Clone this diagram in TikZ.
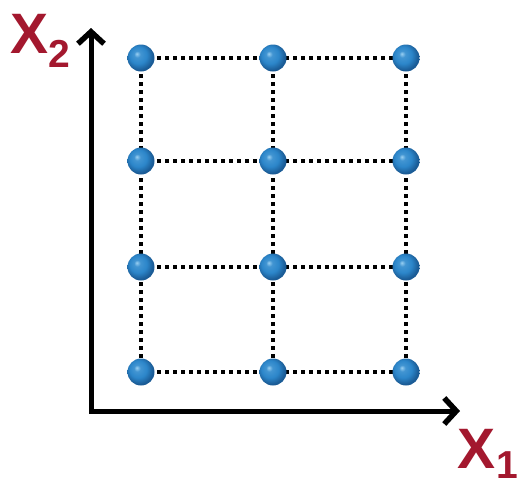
\documentclass[tikz,border=0pt]{standalone}
\usepackage{fontspec}
\setmainfont{Liberation Sans}
\usetikzlibrary{arrows.meta}
\definecolor{lab}{HTML}{A3182E}
\definecolor{ballc}{HTML}{2C86CA}
\definecolor{ballhi}{HTML}{9AD0F2}
\definecolor{balled}{HTML}{1B5C96}
\pgfdeclareradialshading{myball}{\pgfpoint{-8bp}{8bp}}{%
  color(0bp)=(ballhi); color(6bp)=(ballc!80!ballhi); color(16bp)=(ballc);
  color(26bp)=(balled); color(30bp)=(balled); color(50bp)=(balled)}
\tikzset{
  barb/.tip={Straight Barb[length=12pt,width=26pt,line width=5.5pt]},
  ax/.style={line width=5pt, line join=miter, barb-barb},
  grid/.style={line width=3.6pt, dash pattern=on 3.6pt off 4.4pt},
  ptnode/.style={circle, minimum size=27pt, inner sep=0pt, shading=myball},
  lbl/.style={text=lab, font=\bfseries\fontsize{57}{57}\selectfont, inner sep=0pt},
  sublbl/.style={text=lab, font=\bfseries\fontsize{39}{39}\selectfont, inner sep=0pt}
}
\begin{document}
\begin{tikzpicture}[x=1pt,y=-1pt]
\useasboundingbox (0,0) rectangle (519,485);
% grid coordinates
\foreach \i/\x in {1/141,2/273,3/406}{
  \foreach \j/\y in {1/58,2/161,3/267,4/372}{
    \coordinate (c\i\j) at (\x,\y);
  }
}
% dotted lines
\foreach \j in {1,2,3,4}{
  \draw[grid] (c1\j) -- (c2\j) -- (c3\j);
}
\foreach \i in {1,2,3}{
  \draw[grid] (c\i1) -- (c\i2) -- (c\i3) -- (c\i4);
}
% points
\foreach \i in {1,2,3}{
  \foreach \j in {1,2,3,4}{
    \node[ptnode] (p\i\j) at (c\i\j) {};
  }
}
% axes
\coordinate (o) at (91,411);
\coordinate (ytip) at (91,28);
\coordinate (xtip) at (460,411);
\draw[ax] (ytip) -- (o) -- (xtip);
% labels
\node[lbl, anchor=base west] (x2) at (10,53) {X};
\node[sublbl, anchor=base west] (s2) at (48,67) {2};
\node[lbl, anchor=base west] (x1) at (457,468) {X};
\node[sublbl, anchor=base west] (s1) at (496,478) {1};
\end{tikzpicture}
\end{document}
